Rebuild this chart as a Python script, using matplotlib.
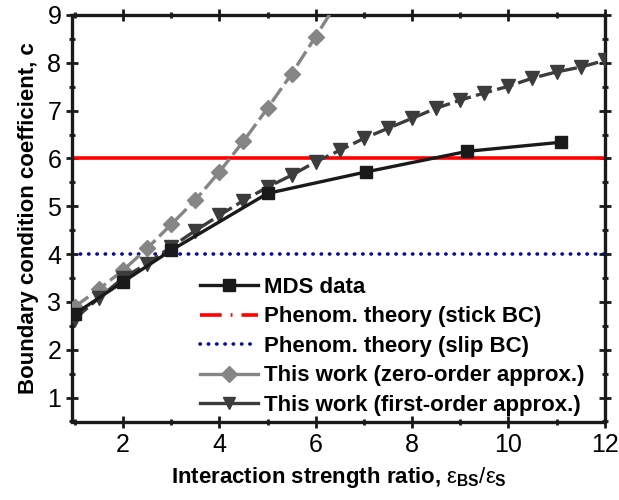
import numpy as np
import matplotlib.pyplot as plt
from matplotlib.ticker import MultipleLocator
from matplotlib.lines import Line2D

plt.rcParams['font.family'] = ['Liberation Sans', 'DejaVu Sans']
plt.rcParams['mathtext.fontset'] = 'custom'
plt.rcParams['mathtext.rm'] = 'Liberation Sans'
plt.rcParams['mathtext.it'] = 'Liberation Sans'
plt.rcParams['mathtext.bf'] = 'Liberation Sans:bold'

# MDS simulation data
mds_x = [1, 2, 3, 5, 7.05, 9.15, 11.1]
mds_c = [2.75, 3.42, 4.08, 5.27, 5.72, 6.15, 6.34]

# zero-order approximation
zero_x = [1, 1.5, 2, 2.5, 3, 3.5, 4, 4.5, 5, 5.5, 6, 6.5]
zero_c = [2.9, 3.27, 3.66, 4.12, 4.62, 5.13, 5.72, 6.36, 7.05, 7.77, 8.55, 9.35]

# first-order approximation
first_x = [1, 1.5, 2, 2.5, 3, 3.5, 4, 4.5, 5, 5.5, 6, 6.5, 7, 7.5, 8, 8.5,
           9, 9.5, 10, 10.5, 11, 11.5, 12]
first_c = [2.65, 3.08, 3.5, 3.8, 4.15, 4.49, 4.81, 5.12, 5.4, 5.65, 5.93, 6.17,
           6.42, 6.63, 6.84, 7.05, 7.22, 7.37, 7.51, 7.68, 7.81, 7.91, 8.05]

stick_c = 6.0
slip_c = 4.0

fig = plt.figure(figsize=(6.19, 5.0), dpi=100)
ax = fig.add_axes([0.117, 0.157, 0.860, 0.813])

ax.axhline(slip_c, color="#0a0a9a", linestyle=(0, (0.1, 2.2)), linewidth=2.6,
           dash_capstyle="round", zorder=2)
ax.axhline(stick_c, color="#ff0000", linewidth=2.6, zorder=2)
ax.plot(zero_x, zero_c, color="#858585", linestyle=(0, (5, 1.6)), linewidth=2.4,
        marker="D", markersize=8, zorder=3)
ax.plot(first_x, first_c, color="#3c3c3c", linestyle=(0, (5, 1.6)), linewidth=2.4,
        marker="v", markersize=10, zorder=4)
ax.plot(mds_x, mds_c, color="#1a1a1a", linewidth=2.4, marker="s", markersize=9,
        zorder=5)

ax.set_xlim(0.95, 12)
ax.set_ylim(0.5, 9)
ax.xaxis.set_minor_locator(MultipleLocator(1))
ax.yaxis.set_minor_locator(MultipleLocator(0.5))
ax.set_xticks([2, 4, 6, 8, 10, 12])
ax.set_yticks([1, 2, 3, 4, 5, 6, 7, 8, 9])

for s in ax.spines.values():
    s.set_linewidth(2.4)
    s.set_color("#1a1a1a")
ax.tick_params(which="both", direction="inout", width=2, color="#1a1a1a",
               top=True, right=True, labelsize=18, pad=4)
ax.tick_params(which="major", length=8)
ax.tick_params(which="minor", length=5)

ax.set_xlabel(r"Interaction strength ratio, $\varepsilon_{\mathregular{BS}}/\varepsilon_{\mathregular{S}}$",
              fontsize=16, fontweight="bold", labelpad=6)
ax.set_ylabel("Boundary condition coefficient, c", fontsize=16, fontweight="bold",
              labelpad=6)

handles = [
    Line2D([], [], color="#1a1a1a", linewidth=2.4, marker="s", markersize=8),
    Line2D([], [], color="#ff0000", linewidth=2.6, linestyle=(0, (6, 2.5, 0.5, 2.5))),
    Line2D([], [], color="#0a0a9a", linewidth=2.6, linestyle=(0, (0.1, 2.2)),
           dash_capstyle="round"),
    Line2D([], [], color="#858585", linewidth=2.4, marker="D", markersize=8),
    Line2D([], [], color="#3c3c3c", linewidth=2.4, marker="v", markersize=9),
]
labels = ["MDS data", "Phenom. theory (stick BC)", "Phenom. theory (slip BC)",
          "This work (zero-order approx.)", "This work (first-order approx.)"]
ax.legend(handles, labels, loc="lower right", bbox_to_anchor=(1.0, -0.035),
          frameon=False, numpoints=1, handlelength=2.6, handletextpad=0.3,
          labelspacing=0.38, prop={"weight": "bold", "size": 16})

fig.savefig("out.png", dpi=100)
